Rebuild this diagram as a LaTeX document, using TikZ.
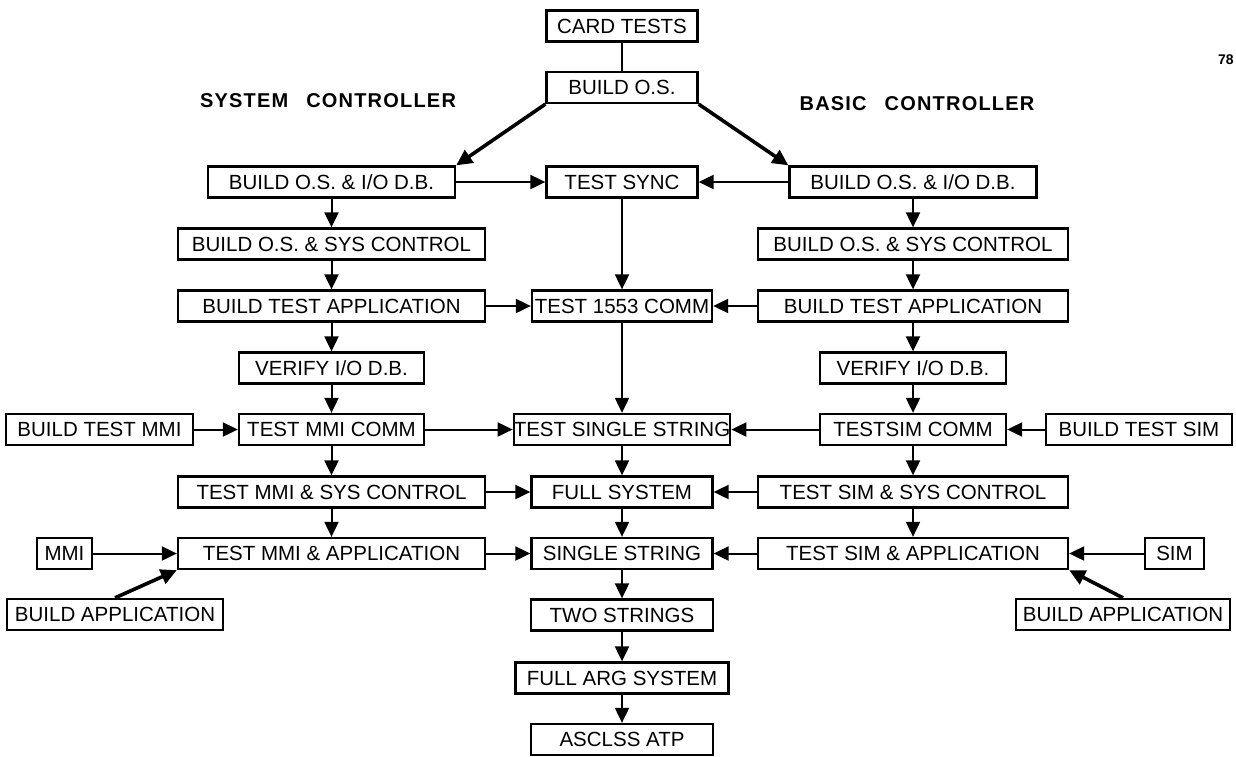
\documentclass[tikz,border=0pt]{standalone}
\usepackage{fontspec}
\setmainfont{Liberation Sans}
\usetikzlibrary{arrows.meta}
\begin{document}
\begin{tikzpicture}[x=0.5pt,y=-0.5pt,
  box/.style={draw, line width=1.15pt, minimum height=15.5pt, inner sep=0pt, font=\fontsize{10.25}{12}\selectfont},
  conn/.style={line width=1pt, -{Triangle[length=7.5pt,width=7pt]}},
  plainline/.style={line width=0.8pt},
  diag/.style={line width=1.8pt, -{Triangle[length=8pt,width=7.5pt]}},
  titletext/.style={font=\fontsize{10}{12}\selectfont\bfseries\addfontfeature{LetterSpace=6}, inner sep=0pt},
  pagenum/.style={font=\fontsize{7}{8}\selectfont\bfseries, inner sep=0pt, anchor=east}
]
\useasboundingbox (0,0) rectangle (1236,756);

% titles
\node[titletext] (sysc) at (328,101) {SYSTEM\hspace{9pt}CONTROLLER};
\node[titletext] (basc) at (917,104) {BASIC\hspace{9pt}CONTROLLER};
\node[pagenum] (pg) at (1234,60) {78};

% centre column
\node[box,minimum width=75.5pt] (card) at (622,26) {CARD TESTS};
\node[box,minimum width=75.5pt] (bos) at (622,87.5) {BUILD O.S.};
\node[box,minimum width=75.5pt] (sync) at (622,182) {TEST SYNC};
\node[box,minimum width=90pt] (c1553) at (622,306) {TEST 1553 COMM};
\node[box,minimum width=106.5pt] (tss) at (622,429.5) {TEST SINGLE STRING};
\node[box,minimum width=90.5pt] (full) at (622,492) {FULL SYSTEM};
\node[box,minimum width=90.5pt] (ss) at (622,553.5) {SINGLE STRING};
\node[box,minimum width=91pt] (two) at (622,615) {TWO STRINGS};
\node[box,minimum width=106.5pt] (arg) at (622,678) {FULL ARG SYSTEM};
\node[box,minimum width=91pt] (atp) at (622,739.5) {ASCLSS ATP};

% left column
\node[box,minimum width=123.5pt] (lbio) at (331.5,182) {BUILD O.S. \& I/O D.B.};
\node[box,minimum width=153.5pt] (lsys) at (331.5,244) {BUILD O.S. \& SYS CONTROL};
\node[box,minimum width=153.5pt] (lapp) at (331.5,306) {BUILD TEST APPLICATION};
\node[box,minimum width=92.5pt] (lver) at (331.5,368) {VERIFY I/O D.B.};
\node[box,minimum width=92.5pt] (lmmic) at (331.5,429.5) {TEST MMI COMM};
\node[box,minimum width=153.5pt] (lmsys) at (331.5,492) {TEST MMI \& SYS CONTROL};
\node[box,minimum width=153.5pt] (lmapp) at (331.5,553.5) {TEST MMI \& APPLICATION};
\node[box,minimum width=93.5pt] (bmmi) at (99.5,429.5) {BUILD TEST MMI};
\node[box,minimum width=27.5pt] (mmi) at (64.5,553.5) {MMI};
\node[box,minimum width=108pt] (lbapp) at (115,614.5) {BUILD APPLICATION};

% right column
\node[box,minimum width=123.5pt] (rbio) at (913,182) {BUILD O.S. \& I/O D.B.};
\node[box,minimum width=155pt] (rsys) at (913,244) {BUILD O.S. \& SYS CONTROL};
\node[box,minimum width=155pt] (rapp) at (913,306) {BUILD TEST APPLICATION};
\node[box,minimum width=93pt] (rver) at (913,368) {VERIFY I/O D.B.};
\node[box,minimum width=93pt] (rsimc) at (913,429.5) {TESTSIM COMM};
\node[box,minimum width=155pt] (rssys) at (913,492) {TEST SIM \& SYS CONTROL};
\node[box,minimum width=155pt] (rsapp) at (913,553.5) {TEST SIM \& APPLICATION};
\node[box,minimum width=93pt] (bsim) at (1139,429.5) {BUILD TEST SIM};
\node[box,minimum width=29.5pt] (sim) at (1174.5,553.5) {SIM};
\node[box,minimum width=107pt] (rbapp) at (1123,614.5) {BUILD APPLICATION};

% connectors
\draw[plainline] (card) -- (bos);
\draw[diag] (bos.south west) -- (lbio.north east);
\draw[diag] (bos.south east) -- (rbio.north west);
\draw[conn] (lbio) -- (sync);
\draw[conn] (rbio) -- (sync);
\foreach \a/\b in {lbio/lsys,lsys/lapp,lapp/lver,lver/lmmic,lmmic/lmsys,lmsys/lmapp,
                   rbio/rsys,rsys/rapp,rapp/rver,rver/rsimc,rsimc/rssys,rssys/rsapp,
                   sync/c1553,c1553/tss,tss/full,full/ss,ss/two,two/arg,arg/atp,
                   lapp/c1553,rapp/c1553,lmmic/tss,rsimc/tss,lmsys/full,rssys/full,
                   lmapp/ss,rsapp/ss,bmmi/lmmic,bsim/rsimc,mmi/lmapp,sim/rsapp}
  \draw[conn] (\a) -- (\b);
\draw[diag] (lbapp.north) -- (lmapp.south west);
\draw[diag] (rbapp.north) -- (rsapp.south east);
\end{tikzpicture}
\end{document}
